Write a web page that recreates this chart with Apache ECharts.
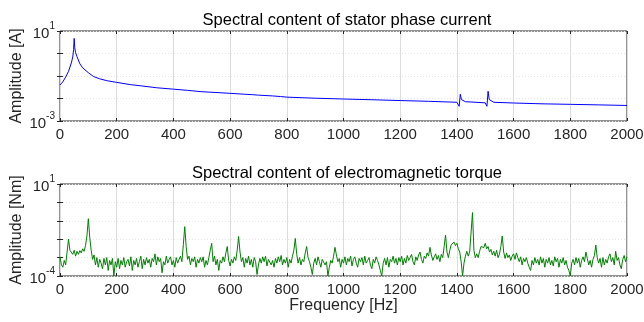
<!DOCTYPE html>
<html>
<head>
<meta charset="utf-8">
<script src="https://cdn.jsdelivr.net/npm/echarts@6/dist/echarts.min.js"></script>
<style>
  html, body { margin: 0; padding: 0; background: #fff; }
  #chart { width: 644px; height: 322px; }
</style>
</head>
<body>
<div id="chart"></div>
<script>
// x ticks (Hz)
const freqTicks = [0, 200, 400, 600, 800, 1000, 1200, 1400, 1600, 1800, 2000];

// stator phase current spectrum [Hz, A]
const currentFreq = [0, 10, 20, 30, 40, 45, 48, 50, 52, 55, 60, 70, 80, 100, 118, 140, 165, 200, 250, 282, 341, 400, 450, 500, 550, 600, 650, 678, 680, 682, 700, 750, 778, 780, 782, 800, 900, 1000, 1100, 1200, 1300, 1400, 1408, 1410, 1412, 1416, 1430, 1450, 1500, 1506, 1508, 1510, 1514, 1530, 1600, 1700, 1800, 1900, 2000];
const currentAmp = [0.04, 0.055, 0.09, 0.16, 0.38, 0.7, 1.5, 4.7, 1.8, 1.1, 0.72, 0.35, 0.23, 0.14, 0.095, 0.075, 0.062, 0.052, 0.041, 0.037, 0.030, 0.026, 0.023, 0.020, 0.0185, 0.017, 0.0155, 0.0148, 0.017, 0.0145, 0.0141, 0.013, 0.0122, 0.0135, 0.0118, 0.0115, 0.0103, 0.0095, 0.0088, 0.0081, 0.0075, 0.0068, 0.0045, 0.0039, 0.0155, 0.009, 0.0072, 0.007, 0.0064, 0.0045, 0.0039, 0.021, 0.009, 0.0068, 0.0063, 0.0058, 0.0055, 0.0052, 0.0049];

// electromagnetic torque spectrum, one value every 5 Hz from 0 to 2000 Hz [Nm]
const TORQUE_STEP = 5;
const torqueAmp = [
  1.1e-3, 4e-4, 3e-4, 7e-4, 4e-4, 2e-3, 1e-2, 2.5e-3, 3e-3, 1.5e-3, 2.5e-3, 1.2e-3, 2.2e-3, 1.5e-3, 2.4e-3, 1.8e-3, 3e-3, 2.2e-3, 4.5e-3, 1.5e-2,
  1.3e-1, 1.2e-2, 2.5e-3, 8e-4, 1.4e-3, 4e-4, 1.0e-3, 3e-4, 8e-4, 5e-4, 2.5e-4, 9e-4, 4e-4, 1.0e-3, 2e-4, 7e-4, 4e-4, 9e-4, 1.0e-4, 6e-4,
  3e-4, 9e-4, 2.5e-4, 7e-4, 4e-4, 1.0e-3, 3e-4, 6e-4, 8e-4, 3.5e-4, 1.1e-3, 2e-4, 7e-4, 4e-4, 9e-4, 3e-4, 6e-4, 1.2e-3, 2.5e-4, 8e-4,
  4e-4, 1.0e-3, 5e-4, 8e-4, 3e-4, 9e-4, 6e-4, 1.6e-3, 4e-4, 1.1e-3, 6e-4, 9e-4, 1.5e-4, 6e-4, 4e-4, 1.2e-3, 5e-4, 8e-4, 1.1e-3, 4e-4,
  7e-4, 3e-4, 1.0e-3, 5e-4, 8e-4, 1.2e-3, 6e-4, 5e-3, 4.8e-2, 4e-3, 8e-4, 1.2e-3, 4e-4, 9e-4, 6e-4, 1.1e-3, 3e-4, 8e-4, 5e-4, 1.0e-3,
  6e-4, 1.1e-3, 3e-4, 7e-4, 4e-4, 1.0e-3, 2.5e-3, 6e-3, 6e-4, 1.2e-3, 4e-4, 8e-4, 2e-4, 7e-4, 5e-4, 1.1e-3, 6e-4, 1.8e-3, 4e-3, 7e-4,
  3.5e-4, 8e-4, 5e-4, 1.1e-3, 7e-4, 2.5e-3, 1.4e-2, 2e-3, 6e-4, 1.0e-3, 3e-4, 9e-4, 5e-4, 1.2e-3, 4e-4, 8e-4, 3e-4, 1.0e-3, 6e-4, 1.2e-4,
  4e-4, 9e-4, 5e-4, 1.1e-3, 6e-4, 1.2e-3, 3.5e-4, 8e-4, 1.0e-3, 4e-4, 7e-4, 3e-4, 9e-4, 5e-4, 1.1e-3, 6e-4, 1.3e-3, 4e-4, 8e-4, 5e-4,
  1.0e-3, 3e-4, 8e-4, 5e-4, 1.2e-3, 2.5e-3, 1.1e-2, 1.5e-3, 5e-4, 1.0e-3, 4e-4, 8e-4, 6e-4, 1.8e-3, 4e-3, 1.0e-3, 6e-4, 3e-4, 1.2e-4, 5e-4,
  9e-4, 4e-4, 1.1e-3, 6e-4, 3e-4, 8e-4, 1.0e-3, 4e-4, 6e-4, 1.0e-4, 3e-4, 7e-4, 5e-4, 1.2e-3, 3.6e-3, 1.4e-3, 6e-4, 9e-4, 3e-4, 8e-4,
  5e-4, 1.1e-3, 4e-4, 9e-4, 6e-4, 1.2e-3, 3.5e-4, 8e-4, 1.1e-3, 5e-4, 3e-4, 9e-4, 6e-4, 1.0e-3, 4e-4, 1.2e-3, 5e-4, 7e-4, 1.0e-3, 4e-4,
  2.5e-4, 8e-4, 5e-4, 1.1e-3, 7e-4, 4e-4, 2e-4, 1.0e-4, 5e-4, 9e-4, 4e-4, 1.0e-3, 3e-4, 8e-4, 6e-4, 1.2e-3, 5e-4, 9e-4, 4e-4, 1.0e-3,
  6e-4, 1.2e-3, 4e-4, 9e-4, 5e-4, 1.3e-3, 7e-4, 1.0e-3, 1.5e-3, 6e-4, 4e-4, 1.1e-3, 7e-4, 1.4e-3, 2.0e-3, 8e-4, 5e-4, 1.2e-3, 9e-4, 1.8e-3,
  1.2e-3, 3.6e-3, 1.4e-3, 7e-4, 1.1e-3, 1.6e-3, 8e-4, 1.3e-3, 6e-4, 1.5e-3, 1.0e-3, 4e-3, 1.7e-2, 2e-3, 1.0e-3, 2.5e-3, 5e-3, 4e-3, 7e-3, 4.5e-3,
  6e-3, 3e-3, 2e-3, 6e-4, 1.0e-4, 5e-4, 1.2e-3, 2.2e-3, 1.2e-3, 2.0e-3, 2.5e-3, 2.8e-1, 2.5e-3, 1.0e-3, 1.6e-3, 1.0e-3, 2.2e-3, 4e-3, 5e-3, 3.5e-3,
  6e-3, 3e-3, 4e-3, 2e-3, 2.8e-3, 1.4e-3, 2.2e-3, 1.2e-3, 2.5e-3, 1.0e-3, 1.5e-3, 4e-3, 1.5e-2, 2e-3, 9e-4, 1.8e-3, 1.0e-3, 1.4e-3, 7e-4, 1.2e-3,
  1.6e-3, 8e-4, 1.8e-3, 1.0e-3, 6e-4, 1.1e-3, 4e-4, 9e-4, 6e-4, 1.0e-3, 5e-4, 3e-4, 2e-4, 7e-4, 4e-4, 1.0e-3, 5e-4, 8e-4, 4e-4, 1.1e-3,
  5e-4, 9e-4, 3e-4, 8e-4, 5e-4, 1.0e-3, 4e-4, 7e-4, 3.5e-4, 1.1e-3, 6e-4, 9e-4, 3e-4, 8e-4, 5e-4, 1.0e-3, 4e-4, 7e-4, 3e-4, 2e-4,
  1.0e-4, 5e-4, 8e-4, 4e-4, 1.0e-3, 5e-4, 9e-4, 3e-4, 7e-4, 1.1e-3, 6e-4, 2.0e-3, 9e-4, 4e-4, 7e-4, 3e-4, 8e-4, 1.3e-3, 4.8e-3, 1.0e-3,
  5e-4, 9e-4, 3e-4, 1.0e-3, 4e-4, 8e-4, 5e-4, 1.1e-3, 1.6e-3, 6e-4, 1.0e-3, 4e-4, 2.2e-3, 7e-4, 1.0e-3, 4e-4, 2.5e-4, 8e-4, 1.3e-3, 6e-4,
  1.1e-3
];

const FONT = "Liberation Sans, Arial, sans-serif";
const AXIS_COLOR = "#262626";

function pairs(xs, ys) {
  return xs.map((x, i) => [x, ys[i]]);
}

// label only the two end decades, as 10^n
function decadeLabel(lo, hi) {
  return v => {
    const e = Math.round(Math.log10(v));
    if (e !== lo && e !== hi) return "";
    return "{b|10}{s|" + e + "}";
  };
}

const labelRich = {
  b: { fontSize: 15, fontFamily: FONT, color: AXIS_COLOR, lineHeight: 20, verticalAlign: "bottom" },
  s: { fontSize: 10, fontFamily: FONT, color: AXIS_COLOR, lineHeight: 20, verticalAlign: "top" }
};

function freqAxis(gridIndex, pos, showLabels, name) {
  return {
    type: "value",
    gridIndex: gridIndex,
    position: pos,
    min: freqTicks[0],
    max: freqTicks[freqTicks.length - 1],
    interval: 200,
    name: name || "",
    nameLocation: "middle",
    nameGap: 21,
    nameTextStyle: { fontSize: 16, fontFamily: FONT, color: AXIS_COLOR },
    axisLine: { show: false },
    axisTick: { show: true, inside: true, length: 3, lineStyle: { color: AXIS_COLOR } },
    axisLabel: { show: showLabels, margin: 6, fontSize: 15, fontFamily: FONT, color: AXIS_COLOR, formatter: v => String(v) },
    splitLine: { show: showLabels, lineStyle: { color: "#dcdcdc", width: 1 } }
  };
}

function ampAxis(gridIndex, pos, lo, hi, name) {
  const main = pos === "left";
  return {
    type: "log",
    logBase: 10,
    gridIndex: gridIndex,
    position: pos,
    min: Math.pow(10, lo),
    max: Math.pow(10, hi),
    splitNumber: hi - lo,
    name: main ? name : "",
    nameLocation: "middle",
    nameGap: 35,
    nameMoveOverlap: false,
    nameTextStyle: { fontSize: 16, fontFamily: FONT, color: AXIS_COLOR },
    axisLine: { show: false },
    axisTick: { show: true, inside: true, length: 3, lineStyle: { color: AXIS_COLOR } },
    axisLabel: { show: main, margin: 5, formatter: decadeLabel(lo, hi), rich: labelRich },
    splitLine: { show: main, lineStyle: { color: "#e4e4e4", type: [1, 2], width: 1 } }
  };
}

const chart = echarts.init(document.getElementById("chart"));
chart.setOption({
  backgroundColor: "#ffffff",
  animation: false,
  title: [
    {
      text: "Spectral content of stator phase current",
      left: 342, top: 7, textAlign: "center",
      textStyle: { fontSize: 16.5, fontWeight: "normal", fontFamily: FONT, color: "#000" }
    },
    {
      text: "Spectral content of electromagnetic torque",
      left: 342, top: 160, textAlign: "center",
      textStyle: { fontSize: 16.5, fontWeight: "normal", fontFamily: FONT, color: "#000" }
    }
  ],
  grid: [
    { left: 60, top: 31, width: 567, height: 90, outerBoundsMode: "none", containLabel: false, show: true, borderColor: AXIS_COLOR, borderWidth: 1, backgroundColor: "transparent" },
    { left: 60, top: 184, width: 567, height: 92, outerBoundsMode: "none", containLabel: false, show: true, borderColor: AXIS_COLOR, borderWidth: 1, backgroundColor: "transparent" }
  ],
  xAxis: [
    freqAxis(0, "bottom", true),
    freqAxis(1, "bottom", true, "Frequency [Hz]"),
    freqAxis(0, "top", false),
    freqAxis(1, "top", false)
  ],
  yAxis: [
    ampAxis(0, "left", -3, 1, "Amplitude [A]"),
    ampAxis(1, "left", -4, 1, "Amplitude [Nm]"),
    ampAxis(0, "right", -3, 1),
    ampAxis(1, "right", -4, 1)
  ],
  series: [
    {
      name: "current",
      type: "line",
      xAxisIndex: 0,
      yAxisIndex: 0,
      data: pairs(currentFreq, currentAmp),
      showSymbol: false,
      lineStyle: { color: "#0000ff", width: 1 },
      itemStyle: { color: "#0000ff" }
    },
    {
      name: "torque",
      type: "line",
      xAxisIndex: 1,
      yAxisIndex: 1,
      data: torqueAmp.map((v, i) => [i * TORQUE_STEP, v]),
      showSymbol: false,
      lineStyle: { color: "#008000", width: 1 },
      itemStyle: { color: "#008000" }
    }
  ]
});
</script>
</body>
</html>
